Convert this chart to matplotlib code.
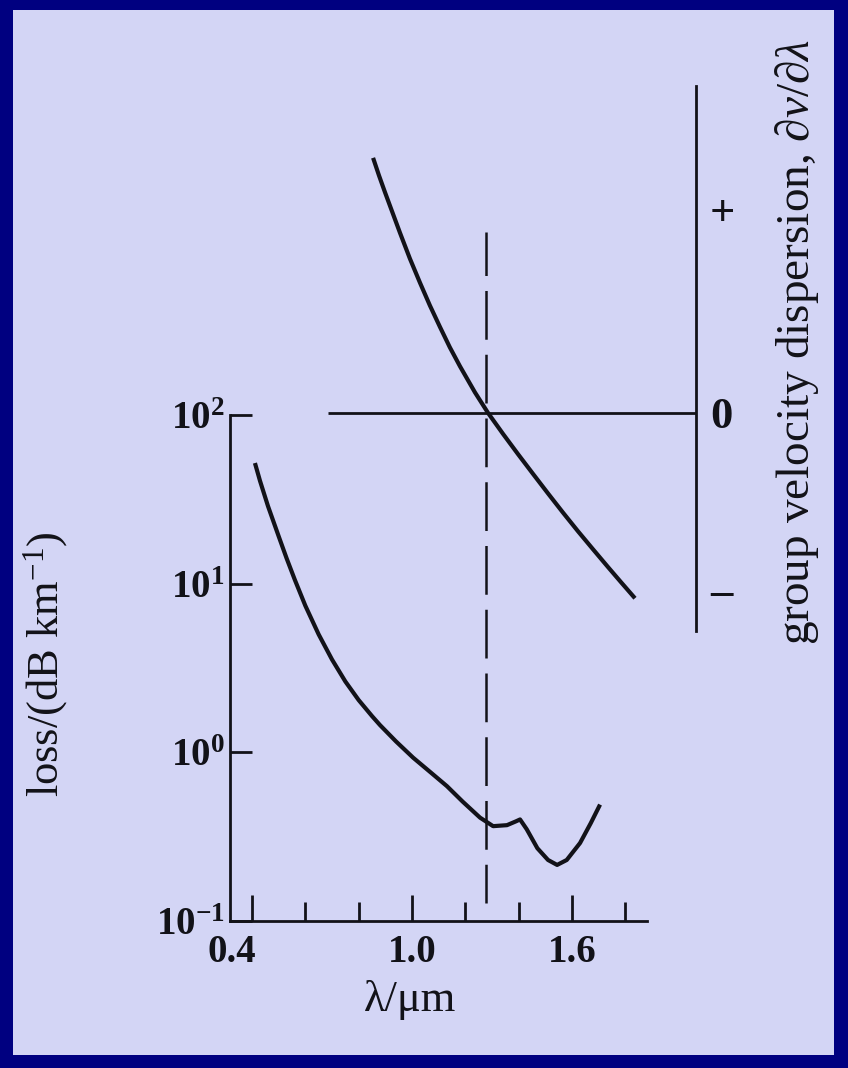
import matplotlib
matplotlib.use("Agg")
import matplotlib.pyplot as plt
from matplotlib.patches import Rectangle
from matplotlib.transforms import ScaledTranslation

plt.rcParams["font.family"] = ["Liberation Serif", "DejaVu Serif"]
plt.rcParams["mathtext.fontset"] = "custom"
plt.rcParams["mathtext.rm"] = "Liberation Serif"
plt.rcParams["mathtext.it"] = "Liberation Serif:italic"
plt.rcParams["mathtext.bf"] = "Liberation Serif:bold"

# fibre loss, wavelength in um and loss in dB/km
loss_wl = [0.411, 0.43, 0.46, 0.50, 0.53, 0.561, 0.60, 0.65, 0.70, 0.75, 0.80,
           0.85, 0.88, 0.94, 1.004, 1.07, 1.131, 1.19, 1.255, 1.304, 1.356,
           1.39, 1.405, 1.43, 1.47, 1.51, 1.544, 1.58, 1.63, 1.67, 1.705]
loss_db = [51.9, 40.7, 28.8, 19.1, 14.1, 10.5, 7.4, 5.0, 3.55, 2.63, 2.04,
           1.64, 1.45, 1.16, 0.93, 0.76, 0.63, 0.51, 0.41, 0.365, 0.37,
           0.39, 0.40, 0.35, 0.27, 0.23, 0.215, 0.23, 0.29, 0.38, 0.49]

# group velocity dispersion (arbitrary units, "-" mark at -1)
disp_wl = [0.854, 0.876, 0.899, 0.955, 0.992, 1.030, 1.067, 1.105, 1.142, 1.180,
           1.236, 1.285, 1.341, 1.397, 1.454, 1.510, 1.566, 1.622, 1.679, 1.735,
           1.784, 1.836]
disp_val = [1.441, 1.342, 1.245, 1.017, 0.872, 0.735, 0.607, 0.485, 0.370, 0.263,
            0.116, 0.0, -0.118, -0.232, -0.345, -0.455, -0.563, -0.668, -0.771, -0.871,
            -0.957, -1.047]

x_major = [0.4, 1.0, 1.6]
x_major_labels = ["0.4", "1.0", "1.6"]
x_minor = [0.6, 0.8, 1.2, 1.4, 1.8]
y_ticks = [0.1, 1, 10, 100]
y_tick_labels = [r"$\mathbf{10^{-1}}$", r"$\mathbf{10^{0}}$", r"$\mathbf{10^{1}}$", r"$\mathbf{10^{2}}$"]
disp_ticks = [-1, 0, 1.15]
disp_tick_labels = ["\u2013", "0", "+"]
zero_disp_wl = 1.277
zero_line_start = 0.685

INK = "#121218"
W, H = 848, 1068


def frac(x0, y0, x1, y1):
    return [x0 / W, 1 - y1 / H, (x1 - x0) / W, (y1 - y0) / H]


fig = plt.figure(figsize=(W / 100, H / 100), dpi=100, facecolor="#000080")
fig.add_artist(Rectangle((13 / W, 13 / H), (W - 27) / W, (H - 23) / H,
                         transform=fig.transFigure, facecolor="#d3d5f5",
                         edgecolor="none", zorder=-5))

# loss axes
ax = fig.add_axes(frac(230, 415, 647, 921))
ax.set_facecolor("none")
ax.set_yscale("log")
ax.set_xlim(0.3175, 1.881)
ax.set_ylim(0.1, 100)
ax.plot(loss_wl, loss_db, color=INK, lw=3, solid_capstyle="butt")
for s in ["top", "right"]:
    ax.spines[s].set_visible(False)
for s in ["left", "bottom"]:
    ax.spines[s].set_linewidth(2)
    ax.spines[s].set_color(INK)
ax.set_xticks(x_major)
ax.set_xticklabels(x_major_labels)
ax.set_xticks(x_minor, minor=True)
ax.set_yticks(y_ticks)
ax.set_yticklabels(y_tick_labels)
ax.yaxis.set_minor_locator(matplotlib.ticker.NullLocator())
ax.tick_params(axis="x", which="major", direction="in", length=19, width=2,
               color=INK, pad=9, labelsize=28, labelcolor=INK)
ax.tick_params(axis="x", which="minor", direction="in", length=13.5, width=2, color=INK)
ax.tick_params(axis="y", direction="in", length=16, width=2, color=INK,
               pad=4, labelsize=28, labelcolor=INK)
for lab in ax.get_xticklabels():
    lab.set_fontweight("bold")
first = ax.get_xticklabels()[0]
first.set_transform(first.get_transform() + ScaledTranslation(-0.2, 0, fig.dpi_scale_trans))

# zero-dispersion wavelength marker
ax.axvline(zero_disp_wl, ymin=0.036, ymax=1.362, color=INK, lw=1.8,
           linestyle=(4, (19.5, 6.0)), clip_on=False)

# dispersion axes
ax2 = fig.add_axes(frac(230, 86, 696, 631))
ax2.set_facecolor("none")
ax2.set_xlim(0.3175, 2.0648)
ax2.set_ylim(-1.232, 1.847)
ax2.plot(disp_wl, disp_val, color=INK, lw=3, solid_capstyle="butt")
ax2.hlines(0, zero_line_start, 2.0648, color=INK, lw=2)
for s in ["top", "left", "bottom"]:
    ax2.spines[s].set_visible(False)
ax2.spines["right"].set_linewidth(2)
ax2.spines["right"].set_color(INK)
ax2.set_xticks([])
ax2.yaxis.tick_right()
ax2.set_yticks(disp_ticks)
ax2.set_yticklabels(disp_tick_labels)
ax2.tick_params(axis="y", length=0, pad=10, labelsize=32, labelcolor=INK)
for lab in ax2.get_yticklabels():
    lab.set_fontweight("bold")

fig.text(46 / W, 1 - 664 / H, r"loss/(dB km$^{-1}$)", rotation=90,
         ha="center", va="center", fontsize=32, color=INK)
fig.text(410 / W, 1 - 1000 / H, "\u03bb/\u03bcm", ha="center", va="center",
         fontsize=32, color=INK)
fig.text(797 / W, 1 - 342 / H, r"group velocity dispersion, $\partial v/\partial\lambda$",
         rotation=90, ha="center", va="center", fontsize=34, color=INK)

fig.savefig("out.png", dpi=100, facecolor=fig.get_facecolor())
